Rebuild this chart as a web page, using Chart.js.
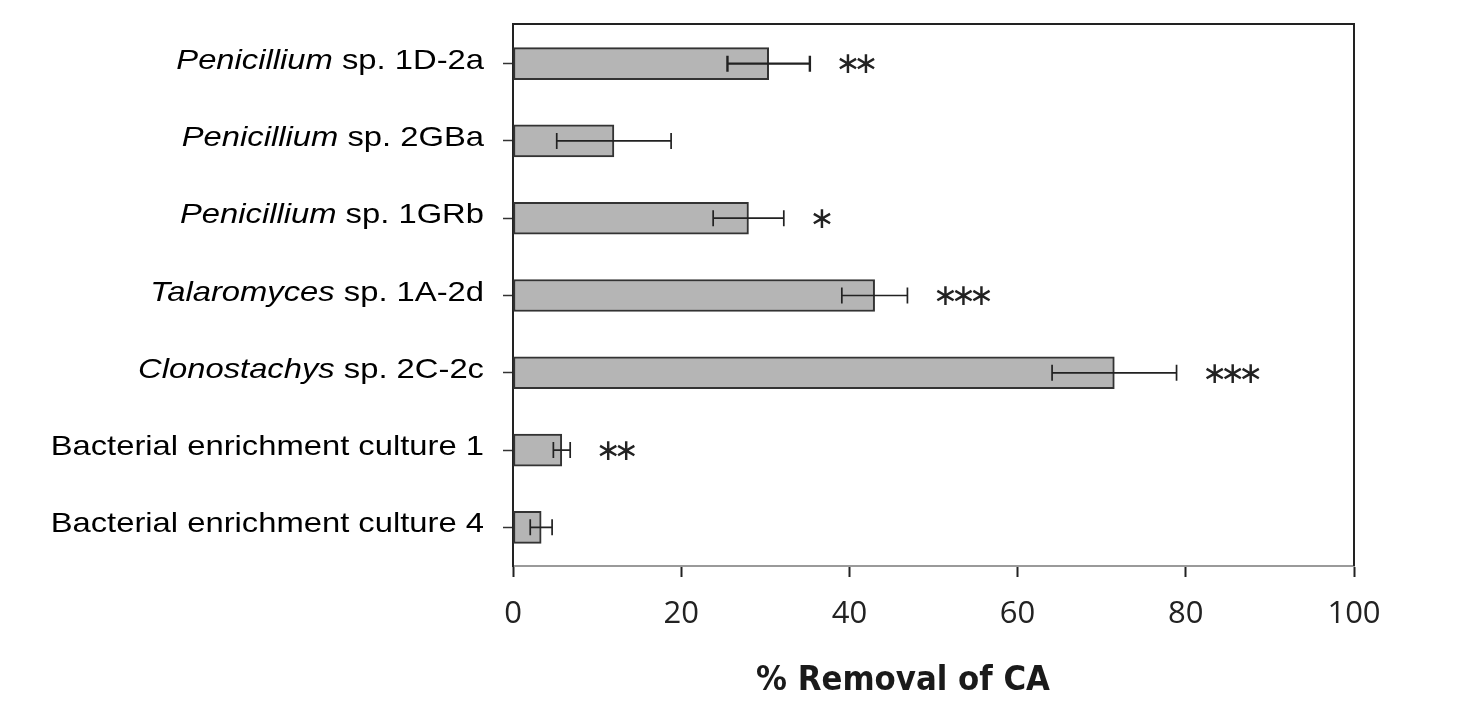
<!DOCTYPE html>
<html><head><meta charset="utf-8">
<script src="https://cdn.jsdelivr.net/npm/chart.js@4.4.1/dist/chart.umd.min.js"></script>
<style>html,body{margin:0;padding:0;background:#fff;}#wrap{width:1467px;height:712px;position:relative;}</style>
</head><body><div id="wrap"><canvas id="c"></canvas></div>
<script>
// ---- data ----
const categories = ['Penicillium sp. 1D-2a','Penicillium sp. 2GBa','Penicillium sp. 1GRb','Talaromyces sp. 1A-2d','Clonostachys sp. 2C-2c','Bacterial enrichment culture 1','Bacterial enrichment culture 4'];
const italicParts = ['Penicillium','Penicillium','Penicillium','Talaromyces','Clonostachys','',''];
const plainParts = [' sp. 1D-2a',' sp. 2GBa',' sp. 1GRb',' sp. 1A-2d',' sp. 2C-2c','Bacterial enrichment culture 1','Bacterial enrichment culture 4'];
const removal = [30.4, 12.0, 28.0, 43.0, 71.5, 5.8, 3.35];
const errors = [4.9, 6.8, 4.2, 3.9, 7.4, 1.0, 1.3];
const significance = ['**','','*','***','***','**',''];
const xTicks = [0, 20, 40, 60, 80, 100];
const xTitle = '% Removal of CA';

const decor = {
  id: 'decor',
  afterDatasetsDraw(chart) {
    const ctx = chart.ctx, xs = chart.scales.x;
    const meta = chart.getDatasetMeta(0);
    ctx.save();
    ctx.strokeStyle = '#222';
    meta.data.forEach((el, i) => {
      const y = el.y;
      const xl = xs.getPixelForValue(removal[i] - errors[i]);
      const xr = xs.getPixelForValue(removal[i] + errors[i]);
      ctx.lineWidth = i === 0 ? 2.4 : 1.7;
      ctx.beginPath();
      ctx.moveTo(xl, y); ctx.lineTo(xr, y);
      ctx.moveTo(xl, y - 8); ctx.lineTo(xl, y + 8);
      ctx.moveTo(xr, y - 8); ctx.lineTo(xr, y + 8);
      ctx.stroke();
      const s = significance[i];
      if (s) {
        ctx.fillStyle = '#222';
        ctx.font = '30px "DejaVu Sans"';
        ctx.textAlign = 'center';
        ctx.textBaseline = 'middle';
        for (let k = 0; k < s.length; k++) {
          ctx.fillText('\u2217', xr + 38 + k * 18, y + 2);
        }
      }
    });
    ctx.restore();
  },
  afterDraw(chart) {
    const ctx = chart.ctx, ca = chart.chartArea, ys = chart.scales.y;
    ctx.save();
    ctx.strokeStyle = '#222';
    ctx.lineWidth = 2;
    ctx.beginPath();
    ctx.moveTo(ca.left - 1, ca.top - 1);
    ctx.lineTo(ca.right, ca.top - 1);
    ctx.lineTo(ca.right, ca.bottom);
    ctx.stroke();
    // y labels (mixed italic / regular)
    const size = 28, sx = 1.17;
    ctx.fillStyle = '#000';
    ctx.textBaseline = 'alphabetic';
    ctx.textAlign = 'left';
    categories.forEach((c, i) => {
      const y = ys.getPixelForValue(i);
      ctx.font = 'italic ' + size + 'px "Liberation Sans"';
      const wi = italicParts[i] ? ctx.measureText(italicParts[i]).width : 0;
      ctx.font = size + 'px "Liberation Sans"';
      const wp = ctx.measureText(plainParts[i]).width;
      const x0 = 484 - (wi + wp) * sx;
      ctx.save();
      ctx.translate(x0, y + 5);
      ctx.scale(sx, 1);
      if (italicParts[i]) {
        ctx.font = 'italic ' + size + 'px "Liberation Sans"';
        ctx.fillText(italicParts[i], 0, 0);
      }
      ctx.font = size + 'px "Liberation Sans"';
      ctx.fillText(plainParts[i], wi, 0);
      ctx.restore();
    });
    // x title
    ctx.font = 'bold 34px "DejaVu Sans"';
    const tw = ctx.measureText(xTitle).width;
    const tsx = 294 / tw;
    ctx.save();
    ctx.translate(903, 690);
    ctx.scale(tsx, 1);
    ctx.fillStyle = '#1a1a1a';
    ctx.textAlign = 'center';
    ctx.fillText(xTitle, 0, 0);
    ctx.restore();
    ctx.restore();
  }
};

new Chart(document.getElementById('c'), {
  type: 'bar',
  data: {
    labels: categories,
    datasets: [{
      data: removal,
      backgroundColor: '#b5b5b5',
      borderColor: '#333',
      borderWidth: 2,
      borderSkipped: false,
      barThickness: 32
    }]
  },
  options: {
    indexAxis: 'y',
    responsive: true,
    maintainAspectRatio: false,
    animation: false,
    layout: { padding: { left: 0, top: 25, right: 113, bottom: 0 } },
    plugins: { legend: { display: false }, tooltip: { enabled: false } },
    scales: {
      x: {
        type: 'linear', min: 0, max: 100,
        afterBuildTicks: s => { s.ticks = xTicks.map(v => ({ value: v })); },
        afterFit: s => { s.height = 146; },
        ticks: { font: { family: 'Open Sans', size: 31 }, color: '#222', padding: 19 },
        grid: { drawOnChartArea: false, drawTicks: true, tickLength: 11, tickColor: '#222', tickWidth: 2 },
        border: { color: '#9a9a9a', width: 2 }
      },
      y: {
        type: 'category', offset: true,
        afterFit: s => { s.width = 513; },
        ticks: { display: false },
        grid: { offset: false, drawOnChartArea: false, drawTicks: true, tickLength: 10, tickColor: '#333', tickWidth: 1.5 },
        border: { color: '#222', width: 2 }
      }
    }
  },
  plugins: [decor]
});
</script>
</body></html>
